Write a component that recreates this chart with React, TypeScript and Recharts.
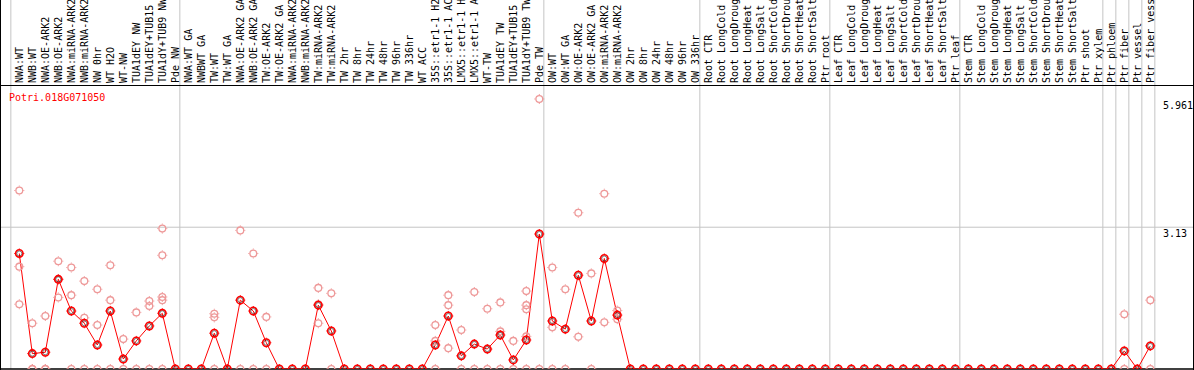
import { ComposedChart, Line, Scatter, XAxis, YAxis, ReferenceLine } from "recharts";

const geneId = "Potri.018G071050";

const labels = [
  "NWA:WT", "NWB:WT", "NWA:OE-ARK2", "NWB:OE-ARK2", "NWA:miRNA-ARK2", "NWB:miRNA-ARK2",
  "NW 0hr", "WT H2O", "WT-NW", "TUA1dEY NW", "TUA1dEY+TUB15", "TUA1dY+TUB9 NW", "Pde NW",
  "NWA:WT GA", "NWBWT GA", "TW:WT", "TW:WT GA", "NWA:OE-ARK2 GA", "NWB:OE-ARK2 GA",
  "TW:OE-ARK2", "TW:OE-ARK2 GA", "NWA:miRNA-ARK2", "NWB:miRNA-ARK2", "TW:miRNA-ARK2",
  "TW:miRNA-ARK2", "TW 2hr", "TW 8hr", "TW 24hr", "TW 48hr", "TW 96hr", "TW 336hr",
  "WT ACC", "35S::etr1-1 H2", "35S::etr1-1 AC", "LMX5::etr1-1 H", "LMX5::etr1-1 A",
  "WT-TW", "TUA1dEY TW", "TUA1dEY+TUB15", "TUA1dY+TUB9 TW", "Pde TW",
  "OW:WT", "OW:WT GA", "OW:OE-ARK2", "OW:OE-ARK2 GA", "OW:miRNA-ARK2", "OW:miRNA-ARK2",
  "OW 2hr", "OW 8hr", "OW 24hr", "OW 48hr", "OW 96hr", "OW 336hr",
  "Root CTR", "Root LongCold", "Root LongDroug", "Root LongHeat", "Root LongSalt",
  "Root ShortCold", "Root ShortDrou", "Root ShortHeat", "Root ShortSalt", "Ptr root",
  "Leaf CTR", "Leaf LongCold", "Leaf LongDroug", "Leaf LongHeat", "Leaf LongSalt",
  "Leaf ShortCold", "Leaf ShortDrou", "Leaf ShortHeat", "Leaf ShortSalt", "Ptr leaf",
  "Stem CTR", "Stem LongCold", "Stem LongDroug", "Stem LongHeat", "Stem LongSalt",
  "Stem ShortCold", "Stem ShortDrou", "Stem ShortHeat", "Stem ShortSalt", "Ptr shoot",
  "Ptr xylem", "Ptr phloem", "Ptr fiber", "Ptr vessel", "Ptr fiber vess",
];

// mean expression per sample (red line)
const means = [
  2.55, 0.34, 0.37, 1.98, 1.28, 1.01, 0.53, 1.28, 0.22, 0.62, 0.95, 1.23, 0,
  0, 0, 0.79, 0, 1.52, 1.28, 0.58, 0, 0, 0, 1.41, 0.84, 0, 0, 0, 0, 0, 0, 0,
  0.53, 1.17, 0.29, 0.55, 0.44, 0.75, 0.2, 0.64, 2.98,
  1.06, 0.88, 2.07, 1.06, 2.44, 1.19, 0, 0, 0, 0, 0, 0,
  0, 0, 0, 0, 0, 0, 0, 0, 0, 0,
  0, 0, 0, 0, 0, 0, 0, 0, 0, 0,
  0, 0, 0, 0, 0, 0, 0, 0, 0, 0,
  0, 0, 0.4, 0, 0.51,
];

// individual replicates (pink circles)
const replicates: number[][] = [
  [3.94, 2.26, 1.43], [1.01, 0, 0], [1.17, 0, 0], [2.38, 1.58, 1.98], [2.24, 1.63, 0],
  [1.94, 1.13, 0], [1.76, 0.97, 0], [2.29, 1.52, 0], [0.66, 0], [1.25, 0], [1.5, 1.39, 0],
  [3.1, 2.51, 1.59, 1.52, 0], [],
  [], [], [1.22, 1.14, 0], [], [3.06, 0], [2.55, 0], [1.15, 0], [], [], [],
  [1.79, 1.01, 1.43], [1.67, 0], [], [], [], [], [], [], [],
  [0.97, 0.62, 0], [1.63, 1.41, 0.46], [0.86, 0], [1.7, 0], [1.33, 0], [1.47, 0.83, 0],
  [0.62, 0], [1.72, 1.41, 1.32, 0.72, 0], [5.961, 0],
  [2.24, 0.92, 0], [1.76, 0], [3.45, 0.71], [2.11, 0], [3.87, 1.03], [1.29, 1.1],
  [], [], [], [], [], [],
  [], [], [], [], [], [], [], [], [], [],
  [], [], [], [], [], [], [], [], [], [],
  [], [], [], [], [], [], [], [], [], [],
  [], [], [1.21, 0], [], [1.52, 0],
];

// first sample of each group (vertical separators)
const groupStarts = [0, 13, 41, 53, 63, 73, 84, 85, 86, 87, 88];
const yTicks = [0, 3.13, 5.961];

const lineData = means.map((mean, idx) => ({ idx, mean }));
const repData = replicates.flatMap((vals, idx) => vals.map((v) => ({ idx, v })));
const tickIdx = labels.map((_, i) => i);

const FONT = "'DejaVu Sans Mono', 'Liberation Mono', monospace";

function SampleTick({ x, payload }: any) {
  return (
    <text
      transform={`translate(${x + 4}, 83) rotate(-90)`}
      fontFamily={FONT}
      fontSize={10}
      fill="#000"
      textAnchor="start"
    >
      {labels[payload.value]}
    </text>
  );
}

function ValueTick({ y, payload }: any) {
  const dy = payload.value === 0 ? -4 : 10;
  return (
    <text x={1162} y={y + dy} fontFamily={FONT} fontSize={10} fill="#000" textAnchor="start">
      {payload.value}
    </text>
  );
}

function MeanDot({ cx, cy }: any) {
  return (
    <g>
      <circle cx={cx} cy={cy} r={3.7} fill="none" stroke="#ff0000" strokeWidth={1.6} />
      <circle cx={cx} cy={cy} r={2.5} fill="none" stroke="#000" strokeWidth={0.5} />
      <path
        d={`M${cx},${cy - 5}V${cy - 4}M${cx},${cy + 4}V${cy + 5}M${cx - 5},${cy}H${cx - 4}M${cx + 4},${cy}H${cx + 5}`}
        stroke="#ff0000"
        strokeWidth={1}
      />
    </g>
  );
}

function RepDot({ cx, cy }: any) {
  return (
    <g>
      <circle cx={cx} cy={cy} r={3.4} fill="none" stroke="#ee9999" strokeWidth={1.3} />
      <path
        d={`M${cx},${cy - 5}V${cy - 4}M${cx},${cy + 4}V${cy + 5}M${cx - 5},${cy}H${cx - 4}M${cx + 4},${cy}H${cx + 5}`}
        stroke="#ee9999"
        strokeWidth={1}
      />
    </g>
  );
}

export default function App() {
  return (
    <div
      style={{
        position: "absolute",
        left: 0,
        top: 0,
        width: 1194,
        height: 370,
        boxSizing: "border-box",
        borderLeft: "1px solid #000",
        borderRight: "1px solid #000",
        background: "#fff",
        overflow: "hidden",
      }}
    >
      <ComposedChart width={1192} height={370} data={lineData} margin={{ top: 0, right: 0, bottom: 1, left: 0 }}>
        <XAxis
          orientation="top"
          mirror
          type="number"
          dataKey="idx"
          domain={[-1.408, 90.285]}
          allowDataOverflow
          ticks={tickIdx}
          interval={0}
          axisLine={false}
          tickLine={false}
          tick={<SampleTick />}
        />
        <YAxis
          orientation="right"
          mirror
          type="number"
          domain={[0, 8.146]}
          allowDataOverflow
          ticks={yTicks}
          axisLine={false}
          tickLine={false}
          tick={<ValueTick />}
        />
        {groupStarts.map((g) => (
          <ReferenceLine key={g} x={g - 0.65} stroke="#c4c4c4" strokeWidth={1} />
        ))}
        <ReferenceLine y={3.13} stroke="#c4c4c4" strokeWidth={1} />
        <ReferenceLine y={0} stroke="#000" strokeWidth={1.5} />
        <Scatter data={repData} dataKey="v" isAnimationActive={false} shape={<RepDot />} />
        <Line
          dataKey="mean"
          stroke="#ff0000"
          strokeWidth={1}
          isAnimationActive={false}
          activeDot={false}
          dot={(p: any) => <MeanDot key={p.index} cx={p.cx} cy={p.cy} />}
        />
      </ComposedChart>
      <div style={{ position: "absolute", left: 0, top: 85, width: 1194, height: 1, background: "#000" }} />
      <div
        style={{
          position: "absolute",
          left: 8,
          top: 92,
          fontFamily: FONT,
          fontSize: 10,
          lineHeight: "12px",
          color: "#ff0000",
        }}
      >
        {geneId}
      </div>
    </div>
  );
}
